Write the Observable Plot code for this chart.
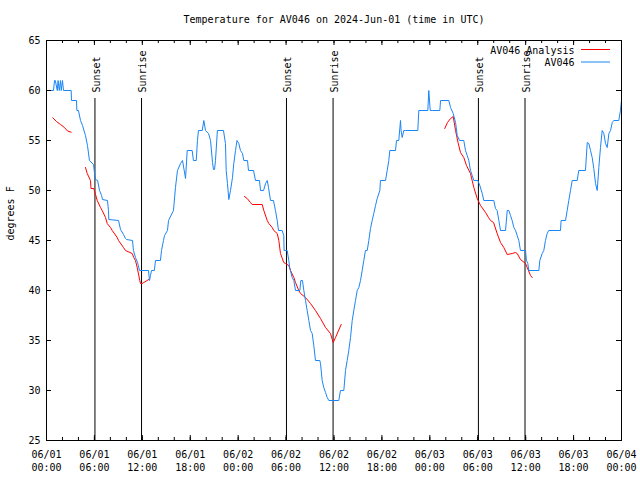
<!DOCTYPE html>
<html><head><meta charset="utf-8">
<script src="https://cdn.jsdelivr.net/npm/d3@7"></script>
<script src="https://cdn.jsdelivr.net/npm/@observablehq/plot@0.6"></script>
<style>body{margin:0;background:#fff}</style>
</head><body><div id="chart"></div>
<script>
const title = "Temperature for AV046 on 2024-Jun-01 (time in UTC)";
const yLabel = "degrees F";
const startTime = "2024-06-01T00:00Z";
const endTime = "2024-06-04T00:00Z";
const yTicks = [25, 30, 35, 40, 45, 50, 55, 60, 65];
const seriesNames = ["AV046 Analysis", "AV046"];
const seriesColors = ["#ff0000", "#1a85f5"];

// AV046 observations: hours since start, degrees F
const obsHours = [0,0.88,1.0,1.1,1.35,1.45,1.6,1.75,1.85,2.0,2.13,3.09,3.13,3.76,3.8,4.0,4.26,4.51,4.88,5.13,5.38,5.89,6.05,6.14,6.4,6.64,6.9,7.01,7.64,7.76,7.8,9.02,9.27,9.64,9.89,10.02,10.77,10.89,11.14,11.40,11.65,12.77,12.90,13.02,13.15,13.5,13.65,14.27,14.40,14.65,14.78,15.15,15.28,15.90,16.15,16.40,16.78,17.03,17.41,17.62,18.24,18.4,18.75,18.9,19.03,19.5,19.70,19.91,20.29,20.54,20.79,20.91,21.04,21.16,21.4,22.16,22.41,22.5,22.66,22.83,23.04,23.29,23.45,23.67,23.85,24.08,24.29,24.54,24.71,25.17,25.29,25.92,26.17,26.67,26.80,27.18,27.43,27.64,27.80,28.05,28.42,28.67,28.89,29.05,29.51,29.71,29.75,30.14,30.34,30.45,30.55,30.76,30.97,31.18,31.72,31.85,32.05,32.22,32.43,32.64,32.85,33.06,33.27,33.47,33.68,34.22,34.31,34.52,34.72,34.94,35.15,35.35,36.60,36.81,37.23,37.44,37.65,37.85,38.07,38.28,38.48,38.69,38.91,39.11,39.32,39.53,39.73,39.94,40.16,40.36,40.57,40.78,40.98,41.20,41.41,41.74,41.82,42.45,42.66,42.86,42.99,43.70,43.83,44.11,44.33,44.40,44.54,44.74,44.95,46.49,46.62,47.75,47.87,48.05,48.30,49.25,49.34,50.38,50.59,50.93,51.22,51.43,51.72,52.25,52.47,52.68,52.88,53.09,53.31,53.51,54.01,54.26,54.56,54.76,56.01,56.22,56.43,56.64,56.85,57.48,57.69,57.89,58.10,58.31,58.52,58.73,58.94,59.14,59.35,59.98,60.10,60.27,60.39,61.65,61.77,62.07,62.27,62.48,62.69,62.89,64.36,64.44,64.99,65.20,65.40,65.61,65.83,66.45,66.65,67.49,67.71,67.91,68.12,68.33,68.53,68.75,68.96,69.16,69.37,69.58,69.79,70.00,70.21,70.42,70.63,70.84,71.04,71.66,71.87,72];
const obsTemps = [60,60,61,61,60,61,60,61,60,61,60,60,59,59,58,58,57,56.5,55.5,54.5,53,52.6,51.5,51.1,51,50,49.5,49.1,49,48,47.1,47,46.1,45.6,45.2,45.1,45,44,43.3,42.8,42,42,41,41.5,42,42,43,43,44,45,45.5,46,47,48,50.3,52,52.7,53,51.2,54,54,53,53,55,56,56,57,56,55.7,55,52.8,52.1,52.1,53,56,56,54.7,52,50.7,49.1,50,51.3,52.7,54,55,54.7,54,53.7,53,53,52,52,51,51,50,50,50.7,51,50.3,49,49,48,47,46,46,45.5,44,44,43,42.3,42,41.3,41,40,40,41,41,40,39,38,37,36,35.7,34.5,33,33,32.7,31,30.3,29.8,29.3,29,29,30,30,32,33,34,35.3,37,38,39,40,40.3,41,42,43,44,44,45,46.2,47,47.7,48.5,49.2,50,51,51,52,53,54,54,55,55,57,56,55.3,56,56,56,58,58,60,58,58,58,59,59,58.3,57.7,56.8,55.5,55,55,54,53.5,53,52,51.5,51,51,50.5,49.7,49,49,48.2,48,47,46,46,48,48,47.5,47,46.3,46,45.5,45,44,44,43,42.7,42,42,43,43.7,44,45,45.7,46,46,47,47,48,49,50,51,51,52,52,54.8,54.7,54,53.3,52.2,50.7,50,52.3,54.3,56,55.7,54.7,54.3,55.7,56,56.8,57,57,58,59];

// AV046 Analysis: hours since start, degrees F (null = gap)
const anaHours = [0.79,1.25,1.75,2.25,2.63,3.09,null,4.88,5.10,5.51,5.57,5.92,6.14,6.35,6.76,6.97,7.39,7.60,8.01,8.23,8.85,9.02,9.64,9.89,10.73,10.93,11.14,11.36,11.68,11.77,11.98,12.18,12.81,null,24.79,25.13,25.54,25.75,27.01,27.21,27.64,27.84,28.26,28.46,28.89,29.09,29.30,29.71,29.93,30.34,30.55,30.97,31.18,31.59,31.81,32.43,33.06,33.68,34.31,34.94,35.56,35.90,36.19,36.90,null,49.87,50.21,50.59,50.93,51.22,51.53,51.84,52.25,52.59,53.09,53.51,53.93,54.35,54.98,55.35,55.60,55.98,56.43,56.85,57.26,57.69,58.31,58.73,58.94,59.35,59.98,60.19,60.61,60.82];
const anaTemps = [57.27,56.9,56.6,56.3,55.95,55.83,null,52.3,51.7,51,50.2,50.2,49.6,49,48.3,48,47.3,46.7,46.3,46,45.3,45,44.3,44,43.7,43.3,43,42.3,41,40.7,40.7,40.8,41.1,null,49.4,49.2,48.8,48.6,48.6,48,47,46.7,46.3,46,45.7,45,43.7,42.8,42.7,42.5,42,41.3,40.8,40,39.7,39.3,38.7,38,37.2,36.3,35.7,34.8,35.3,36.6,null,56.2,56.8,57.2,57.4,56,54.8,53.8,53.3,52.5,51.7,50.3,49.2,48.5,47.8,47.3,47,46.8,45.7,44.8,44.3,43.6,43.7,43.8,43.7,43.1,42.7,42.3,41.5,41.3];

const sunTimes = ["2024-06-01T06:04Z","2024-06-01T11:54Z","2024-06-02T06:03Z","2024-06-02T11:53Z","2024-06-03T06:05Z","2024-06-03T11:55Z"];
const sunLabels = ["Sunset","Sunrise","Sunset","Sunrise","Sunset","Sunrise"];

// layout
const W = 640, H = 480, mL = 46, mR = 19, mT = 40, mB = 40;
const innerW = W - mL - mR, innerH = H - mT - mB;
const majorLen = 5, minorLen = 3;

const t0 = new Date(startTime), t1 = new Date(endTime);
const toTime = h => h == null ? null : new Date(t0.getTime() + h * 3600000);
const obs = obsHours.map((h, i) => ({time: toTime(h), temp: obsTemps[i]}));
const ana = anaHours.map((h, i) => ({time: toTime(h), temp: anaTemps[i]}));
const sun = sunTimes.map((t, i) => ({time: new Date(t), label: sunLabels[i]}));
const majorTicks = d3.utcHour.every(6).range(t0, new Date(t1.getTime() + 1));
const minorTicks = d3.utcHour.every(2).range(t0, new Date(t1.getTime() + 1));
const fmt = d3.utcFormat("%m/%d\n%H:%M");

const legendLines = () => {
  const g = d3.create("svg:g").attr("stroke-width", 1).attr("fill", "none");
  const xr = W - mR - 11, xl = xr - 29;
  [0, 1].forEach(i => {
    g.append("line").attr("x1", xl).attr("x2", xr)
      .attr("y1", mT + 9.5 + i * 12.5).attr("y2", mT + 9.5 + i * 12.5)
      .attr("stroke", seriesColors[i]);
  });
  return g.node();
};

const chart = Plot.plot({
  width: W, height: H,
  marginLeft: mL, marginRight: mR, marginTop: mT, marginBottom: mB,
  x: {type: "utc", domain: [t0, t1], axis: null},
  y: {domain: [25, 65], axis: null},
  style: {fontFamily: "DejaVu Sans Mono", fontSize: "10px", background: "#fff", color: "#000"},
  marks: [
    Plot.ruleX(sun, {x: "time", insetTop: 58, stroke: "#000"}),
    Plot.text(sun, {x: "time", text: "label", frameAnchor: "top", rotate: -90, textAnchor: "start", lineAnchor: "middle", dy: 52, dx: 1.5, fill: "#000"}),
    Plot.line(ana, {x: "time", y: "temp", stroke: seriesColors[0], strokeWidth: 1}),
    Plot.line(obs, {x: "time", y: "temp", stroke: seriesColors[1], strokeWidth: 1}),
    Plot.frame({stroke: "#000"}),
    Plot.ruleX(majorTicks, {x: d => d, insetTop: innerH - majorLen, stroke: "#000"}),
    Plot.ruleX(majorTicks, {x: d => d, insetBottom: innerH - majorLen, stroke: "#000"}),
    Plot.ruleX(minorTicks, {x: d => d, insetTop: innerH - minorLen, stroke: "#000"}),
    Plot.ruleX(minorTicks, {x: d => d, insetBottom: innerH - minorLen, stroke: "#000"}),
    Plot.ruleY(yTicks, {y: d => d, insetRight: innerW - majorLen, stroke: "#000"}),
    Plot.ruleY(yTicks, {y: d => d, insetLeft: innerW - majorLen, stroke: "#000"}),
    Plot.text(majorTicks, {x: d => d, text: d => fmt(d), frameAnchor: "bottom", lineAnchor: "top", dy: 8, lineHeight: 1.3, fill: "#000"}),
    Plot.text(yTicks, {y: d => d, text: d => String(d), frameAnchor: "left", textAnchor: "end", dx: -6, fill: "#000"}),
    Plot.text([yLabel], {text: d => d, frameAnchor: "left", rotate: -90, lineAnchor: "middle", dx: -36, dy: 0, fill: "#000"}),
    Plot.text([title], {text: d => d, frameAnchor: "top", lineAnchor: "middle", dy: -21, fill: "#000"}),
    Plot.text([seriesNames[0]], {text: d => d, frameAnchor: "top-right", textAnchor: "end", lineAnchor: "middle", dx: -47, dy: 10, fill: "#000"}),
    Plot.text([seriesNames[1]], {text: d => d, frameAnchor: "top-right", textAnchor: "end", lineAnchor: "middle", dx: -47, dy: 22.5, fill: "#000"}),
    legendLines
  ]
});
document.getElementById("chart").appendChild(chart);
</script>
</body></html>
